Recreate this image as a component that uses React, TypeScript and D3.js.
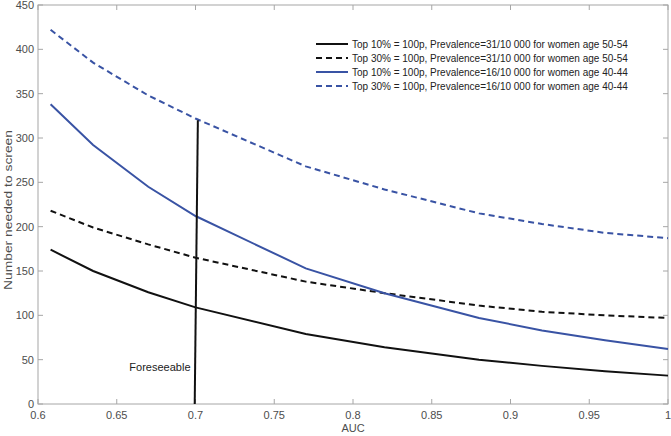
import React from "react";
import * as d3 from "d3";

const auc = [0.608, 0.635, 0.67, 0.7, 0.77, 0.82, 0.88, 0.92, 0.96, 1.0];
const top10_5054 = [174, 150, 126, 109, 79, 64, 50, 43, 37, 32];
const top30_5054 = [218, 199, 180, 165, 138, 125, 111, 104, 100, 97];
const top10_4044 = [338, 292, 245, 212, 153, 125, 97, 83, 72, 62];
const top30_4044 = [422, 385, 348, 322, 268, 242, 215, 203, 193, 187];
const seriesLabels = [
  "Top 10% = 100p, Prevalence=31/10 000 for women age 50-54",
  "Top 30% = 100p, Prevalence=31/10 000 for women age 50-54",
  "Top 10% = 100p, Prevalence=16/10 000 for women age 40-44",
  "Top 30% = 100p, Prevalence=16/10 000 for women age 40-44",
];
const xTicks = [0.6, 0.65, 0.7, 0.75, 0.8, 0.85, 0.9, 0.95, 1];
const yTicks = [0, 50, 100, 150, 200, 250, 300, 350, 400, 450];
const foreseeableX = [0.6995, 0.7015];
const foreseeableY = [0, 320];

const W = 671, H = 436;
const left = 38, right = 668, top = 5, bottom = 404;
const BLUE = "#3953a4";
const AXIS = "#a6a6a6";
const TXT = "#4d4d4d";
const FONT = "'Liberation Sans', Arial, sans-serif";

export default function App() {
  const x = d3.scaleLinear().domain([0.6, 1]).range([left, right]);
  const y = d3.scaleLinear().domain([0, 450]).range([bottom, top]);
  const line = d3.line<number>().x((_, i) => x(auc[i])).y((d) => y(d));
  const series = [
    { data: top10_5054, color: "#111", dash: undefined },
    { data: top30_5054, color: "#111", dash: "6,4" },
    { data: top10_4044, color: BLUE, dash: undefined },
    { data: top30_4044, color: BLUE, dash: "6,4" },
  ];
  const fmt = (v: number) => String(v);
  return (
    <svg width={W} height={H} style={{ position: "absolute", left: 0, top: 0, background: "#fff" }} fontFamily={FONT}>
      <rect x={left} y={top} width={right - left} height={bottom - top} fill="none" stroke={AXIS} strokeWidth={1} />
      {xTicks.map((t) => (
        <g key={"x" + t}>
          <line x1={x(t)} x2={x(t)} y1={bottom} y2={bottom - 5} stroke={AXIS} />
          <line x1={x(t)} x2={x(t)} y1={top} y2={top + 5} stroke={AXIS} />
          <text x={x(t)} y={bottom + 15} textAnchor="middle" fontSize={11} fill={TXT}>{fmt(t)}</text>
        </g>
      ))}
      {yTicks.map((t) => (
        <g key={"y" + t}>
          <line x1={left} x2={left + 5} y1={y(t)} y2={y(t)} stroke={AXIS} />
          <line x1={right} x2={right - 5} y1={y(t)} y2={y(t)} stroke={AXIS} />
          <text x={left - 4} y={y(t) + 4} textAnchor="end" fontSize={11} fill={TXT}>{fmt(t)}</text>
        </g>
      ))}
      <text x={(left + right) / 2} y={432} textAnchor="middle" fontSize={11} fill={TXT}>AUC</text>
      <text transform={`translate(12,${210}) rotate(-90)`} textAnchor="middle" fontSize={11} fill={TXT} textLength={160} lengthAdjust="spacingAndGlyphs">Number needed to screen</text>
      {series.map((s, i) => (
        <path key={i} d={line(s.data) || ""} fill="none" stroke={s.color} strokeWidth={2} strokeDasharray={s.dash} />
      ))}
      <line x1={x(foreseeableX[0])} y1={y(foreseeableY[0])} x2={x(foreseeableX[1])} y2={y(foreseeableY[1])} stroke="#111" strokeWidth={2} />
      <text x={x(0.7) - 5} y={371} textAnchor="end" fontSize={11} fill="#222">Foreseeable</text>
      {series.map((s, i) => (
        <g key={"l" + i}>
          <line x1={316} x2={348} y1={44 + i * 14} y2={44 + i * 14} stroke={s.color} strokeWidth={2} strokeDasharray={s.dash} />
          <text x={352} y={48 + i * 14} fontSize={10} fill="#222">{seriesLabels[i]}</text>
        </g>
      ))}
    </svg>
  );
}
